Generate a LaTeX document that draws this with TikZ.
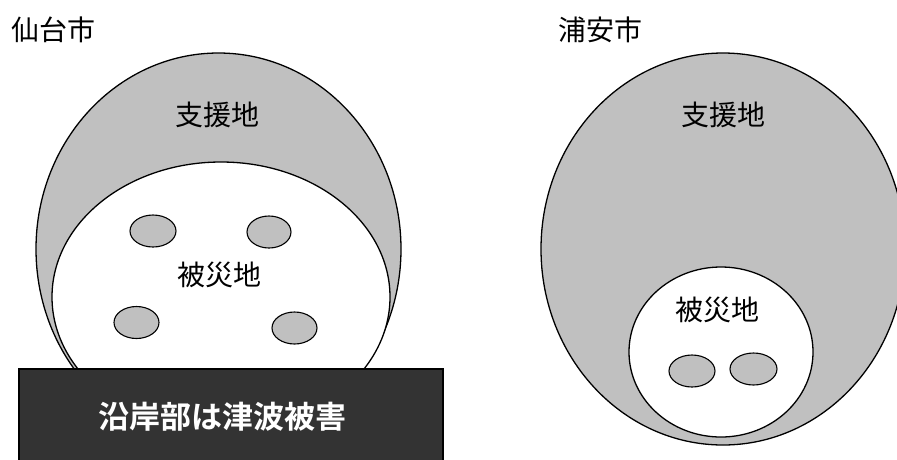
\documentclass[tikz,border=0pt]{standalone}
\usepackage{fontspec}
\setmainfont{Noto Sans CJK JP}
\newfontfamily\jpbold{Noto Sans CJK JP Bold}
\definecolor{zone}{HTML}{C0C0C0}
\definecolor{coast}{HTML}{333333}
\tikzset{
  region/.style={draw=black, line width=1.3pt, fill=zone},
  hit/.style={draw=black, line width=1.3pt, fill=white},
  spot/.style={draw=black, line width=1.1pt, fill=zone},
  label/.style={font=\fontsize{28}{28}\selectfont, inner sep=0pt},
  title/.style={font=\fontsize{28}{28}\selectfont, inner sep=0pt},
}
\begin{document}
\begin{tikzpicture}[x=1pt,y=-1pt]
\useasboundingbox (0,0) rectangle (897,459);
\clip (0,0) rectangle (897,459);
% Sendai
\node[title] (sendai) at (54,30) {仙台市};
\draw[region] (218.5,249) ellipse [x radius=182.5, y radius=196];
\draw[hit] (221,297) ellipse [x radius=169, y radius=135];
\node[label] (s1) at (217,115) {支援地};
\node[label] (d1) at (219,274.5) {被災地};
\draw[spot] (153,231) ellipse [x radius=23, y radius=16];
\draw[spot] (269,232) ellipse [x radius=22, y radius=16];
\draw[spot] (136.5,322.5) ellipse [x radius=22.5, y radius=16];
\draw[spot] (294.5,328) ellipse [x radius=22.5, y radius=16];
\draw[draw=black, line width=1.2pt, fill=coast] (19,369) rectangle (443,470);
\node[font=\jpbold\fontsize{31}{31}\selectfont, text=white, inner sep=0pt] (coastal) at (222,417) {沿岸部は津波被害};
% Urayasu
\node[title] (urayasu) at (600,30) {浦安市};
\draw[region] (723,249) ellipse [x radius=182, y radius=196];
\draw[hit] (721,352) ellipse [x radius=92, y radius=85];
\node[label] (s2) at (723,115) {支援地};
\node[label] (d2) at (717.5,309.5) {被災地};
\draw[spot] (692,371) ellipse [x radius=23, y radius=16];
\draw[spot] (753.5,369) ellipse [x radius=23.5, y radius=16];
\end{tikzpicture}
\end{document}
